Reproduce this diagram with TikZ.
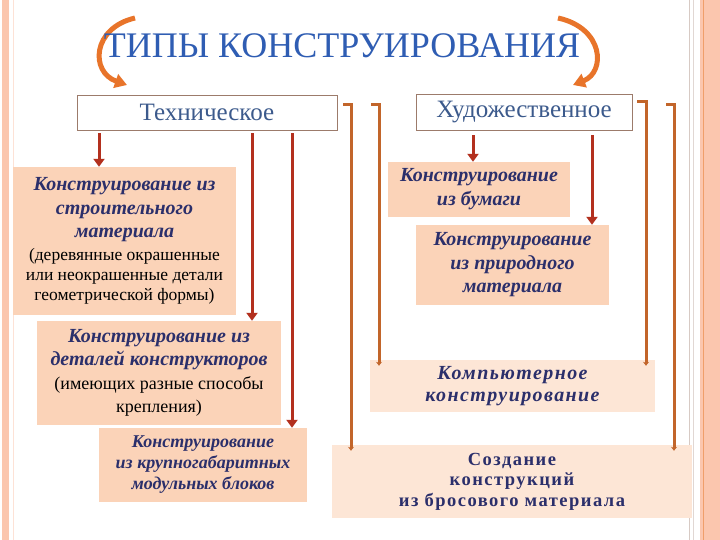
\documentclass[tikz,border=0pt]{standalone}
\usepackage{fontspec}
\setmainfont{Liberation Serif}
\newfontfamily\spacedbi[LetterSpace=7]{Liberation Serif}
\newfontfamily\spacedb[LetterSpace=8]{Liberation Serif}
\usetikzlibrary{arrows.meta}
\definecolor{peach}{HTML}{FBD3B8}
\definecolor{peachlight}{HTML}{FDE6D6}
\definecolor{navy}{HTML}{2B2F6B}
\definecolor{titleblue}{HTML}{2F5DB3}
\definecolor{headblue}{HTML}{3C5A8C}
\definecolor{darkred}{HTML}{B3301E}
\definecolor{bracket}{HTML}{C2652A}
\definecolor{curve}{HTML}{E8742A}
\definecolor{band}{HTML}{FBC6AE}
\definecolor{hborder}{HTML}{9C7B6B}
\tikzset{
  headbox/.style={draw=hborder,line width=0.8pt,fill=white,inner sep=0pt,
    font=\fontsize{25}{28}\selectfont,text=headblue},
  pbox/.style={fill=peach,inner sep=0pt,align=center,
    font=\fontsize{20}{23.5}\selectfont},
  redarrow/.style={draw=darkred,line width=3pt,-{Triangle[length=8pt,width=11pt]}},
  brk/.style={draw=bracket,line width=3pt,-{Stealth[length=4pt,width=6pt]}},
  bigcurve/.style={draw=curve,line width=5pt,-{Triangle[length=12pt,width=14pt]}}
}
\newcommand{\hbi}[1]{\textcolor{navy}{\bfseries\itshape #1}}
\begin{document}
\begin{tikzpicture}[x=1pt,y=-1pt]
\useasboundingbox (0,0) rectangle (720,540);
\fill[white] (0,0) rectangle (720,540);
% side decorations
\fill[band] (2,0) rectangle (9,540);
\draw[band!50,line width=0.6pt] (13,0) -- (13,540);
\draw[hborder!40,line width=1pt] (689,0) -- (689,540);
\draw[hborder!30,line width=1pt] (693,0) -- (693,540);
\fill[band] (700,0) rectangle (720,540);
\draw[curve!70,line width=0.8pt] (703,0) -- (703,540);

% curved arrows
\coordinate (cl0) at (135,18);
\coordinate (cl1) at (127,85);
\coordinate (cr0) at (558,18);
\coordinate (cr1) at (573,85);
\draw[bigcurve] (cl0) .. controls (92,28) and (90,72) .. (cl1);
\draw[bigcurve] (cr0) .. controls (604,28) and (606,72) .. (cr1);

% title
\node[text=titleblue,font=\fontsize{36}{40}\selectfont,inner sep=0pt] (title) at (342,46) {ТИПЫ КОНСТРУИРОВАНИЯ};

% header boxes
\node[headbox,minimum width=260pt,minimum height=35pt] (T) at (207,112.5) {Техническое};
\node[headbox,minimum width=216pt,minimum height=36pt] (H) at (524,112) {Художественное};

% left boxes
\node[pbox,minimum width=223pt,minimum height=148pt] (A) at (124.5,241)
 {\hbi{Конструирование из}\\ \hbi{строительного}\\ \hbi{материала}\\[-1pt]
  {\fontsize{17.5}{20}\selectfont (деревянные окрашенные}\\[-3.5pt]
  {\fontsize{17.5}{20}\selectfont или неокрашенные детали}\\[-3.5pt]
  {\fontsize{17.5}{20}\selectfont геометрической формы)}};
\node[pbox,minimum width=244pt,minimum height=104pt] (B) at (159,373)
 {\hbi{Конструирование из}\\ \hbi{деталей конструкторов}\\
  {\fontsize{18}{23}\selectfont (имеющих разные способы}\\
  {\fontsize{18}{23}\selectfont крепления)}};
\node[pbox,minimum width=208pt,minimum height=74pt,font=\fontsize{18}{21}\selectfont] (C) at (203,465)
 {\hbi{Конструирование}\\ \hbi{из крупногабаритных}\\ \hbi{модульных блоков}};

% right boxes
\node[pbox,minimum width=182pt,minimum height=55pt,font=\fontsize{20}{24}\selectfont] (D) at (479,189.5)
 {\hbi{Конструирование}\\ \hbi{из бумаги}};
\node[pbox,minimum width=193pt,minimum height=80pt] (E) at (512.5,265)
 {\hbi{Конструирование}\\ \hbi{из природного}\\ \hbi{материала}};
\node[pbox,fill=peachlight,minimum width=285pt,minimum height=52pt,font=\fontsize{20}{22}\spacedbi\selectfont] (F) at (512.5,386)
 {\hbi{Компьютерное}\\ \hbi{конструирование}};
\node[pbox,fill=peachlight,minimum width=360pt,minimum height=73pt,font=\fontsize{18.5}{20.5}\spacedb\selectfont,text=navy] (G) at (512,481.5)
 {\bfseries Создание\\ \bfseries конструкций\\ \bfseries из бросового материала};

% red arrows
\draw[redarrow] ([yshift=-3pt]T.south -| 99,0) -- (A.north -| 99,0);
\draw[redarrow] ([yshift=-3pt]T.south -| 252,0) -- (B.north -| 252,0);
\draw[redarrow] ([yshift=-3pt]T.south -| 292,0) -- (C.north -| 292,0);
\draw[redarrow] ([yshift=-5pt]H.south -| 473,0) -- (D.north -| 473,0);
\draw[redarrow] ([yshift=-5pt]H.south -| 592,0) -- (E.north -| 592,0);

% orange brackets
\coordinate (b1) at (343,105);
\coordinate (b2) at (371,105);
\coordinate (b3) at (637,102);
\coordinate (b4) at (666,105);
\draw[brk] (b1) -- (351,105) -- ([yshift=-6pt]G.north -| 351,0);
\draw[brk] (b2) -- (379,105) -- ([yshift=-6pt]F.north -| 379,0);
\draw[brk] (b3) -- (646,102) -- ([yshift=-6pt]F.north -| 646,0);
\draw[brk] (b4) -- (674,105) -- ([yshift=-6pt]G.north -| 674,0);
\end{tikzpicture}
\end{document}
